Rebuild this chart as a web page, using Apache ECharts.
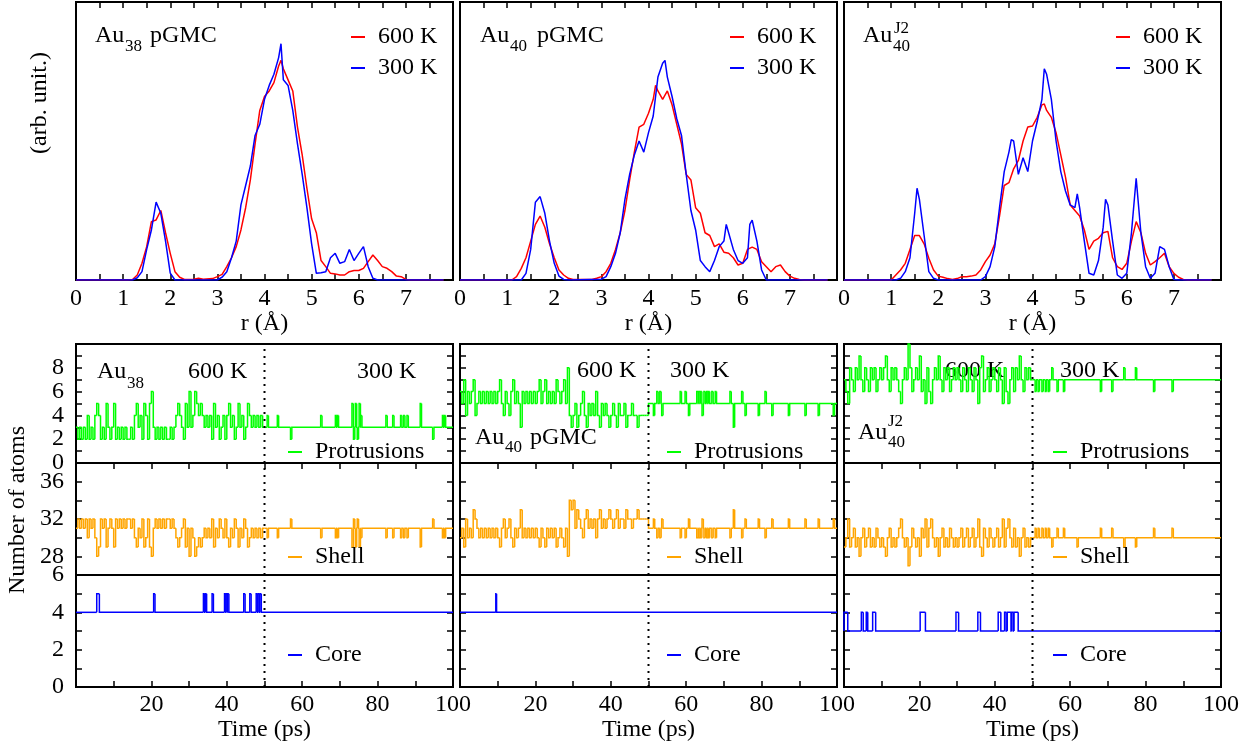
<!DOCTYPE html>
<html>
<head>
<meta charset="utf-8">
<script src="https://cdn.jsdelivr.net/npm/echarts@6/dist/echarts.min.js"></script>
<style>
html, body { margin: 0; padding: 0; background: #fff; }
#main { width: 1255px; height: 746px; }
</style>
</head>
<body>
<div id="main"></div>
<script>
var FONT = "'Liberation Serif', 'DejaVu Serif', serif";

// ---- radial distributions, [r (A), arb. unit] ----
var rdfAu38_600 = [[0,0],[1.1,0],[1.2,0.2],[1.3,1.8],[1.4,6],[1.5,12],[1.6,21],[1.7,21.6],[1.8,25],[1.9,17],[2.0,9.6],[2.1,3],[2.2,1],[2.3,0.2],[2.5,0.3],[2.6,0.6],[2.7,0.3],[2.9,0.5],[3.0,1.2],[3.1,2],[3.2,4.8],[3.3,8],[3.4,12],[3.5,18],[3.6,26],[3.7,36],[3.8,49],[3.9,61],[4.0,66],[4.1,68],[4.2,71],[4.3,77],[4.35,79],[4.4,76],[4.5,72],[4.6,68],[4.7,55],[4.8,45],[4.9,33],[5.0,22],[5.1,17],[5.2,7],[5.3,4.8],[5.4,2.4],[5.5,2.2],[5.6,1.8],[5.7,1.8],[5.8,3],[5.9,3.4],[6.0,3.4],[6.1,4.2],[6.2,6.6],[6.3,9],[6.4,7],[6.5,4.8],[6.6,4.2],[6.7,3],[6.8,1.4],[6.9,1.2],[7.0,0.2],[7.1,0],[7.8,0]];
var rdfAu38_300 = [[0,0],[1.2,0],[1.3,0.8],[1.4,3],[1.5,11],[1.6,18],[1.7,28],[1.8,24],[1.9,14],[2.0,2.5],[2.1,0],[3.0,0],[3.1,1],[3.2,3],[3.3,8],[3.4,14],[3.5,27],[3.6,34],[3.7,41],[3.8,52],[3.9,56],[4.0,65],[4.1,70],[4.2,74],[4.3,80],[4.35,85],[4.4,72],[4.5,70],[4.6,61],[4.7,49],[4.8,38],[4.9,26],[5.0,13],[5.1,2.4],[5.2,2.6],[5.3,3],[5.4,8],[5.5,9.6],[5.6,6],[5.7,6.6],[5.8,11],[5.9,7],[6.0,9.6],[6.1,12],[6.2,4.8],[6.3,0.6],[6.4,0],[7.8,0]];
var rdfAu40_600 = [[0,0],[1.1,0],[1.2,1.2],[1.3,4.2],[1.4,8],[1.5,14],[1.6,20],[1.7,23],[1.8,19],[1.9,13],[2.0,8],[2.1,3.6],[2.2,1.8],[2.3,0.6],[2.4,0.2],[2.8,0.2],[2.9,0.6],[3.0,1.2],[3.1,3],[3.2,6],[3.3,11],[3.4,17],[3.5,25],[3.6,36],[3.7,46],[3.8,55],[3.9,56],[4.0,60],[4.1,65],[4.15,70],[4.2,68],[4.3,65],[4.4,68],[4.5,63],[4.6,56],[4.7,49],[4.8,38],[4.9,36],[5.0,26],[5.1,24],[5.2,17],[5.3,16],[5.4,12],[5.5,13],[5.6,10],[5.7,9.6],[5.8,8],[5.9,5.4],[6.0,6],[6.1,11],[6.2,11.8],[6.3,11],[6.4,6.6],[6.5,4.8],[6.6,3],[6.7,4.8],[6.8,5.4],[6.9,3],[7.0,1.4],[7.1,0.6],[7.2,0.2],[7.3,0],[7.8,0]];
var rdfAu40_300 = [[0,0],[1.3,0],[1.4,2.4],[1.5,11],[1.6,28],[1.7,30],[1.8,24],[1.9,14],[2.0,6],[2.1,1.4],[2.2,0.2],[2.3,0],[3.0,0.3],[3.1,1.2],[3.2,4.8],[3.3,9.6],[3.4,17],[3.5,29],[3.6,38],[3.7,45],[3.8,50],[3.9,46],[4.0,53],[4.1,59],[4.2,73],[4.3,78],[4.35,79],[4.4,73],[4.5,66],[4.6,58],[4.7,52],[4.8,38],[4.9,25],[5.0,18],[5.1,7],[5.2,4.8],[5.3,3],[5.4,7],[5.5,12],[5.6,14],[5.65,20],[5.7,17],[5.8,11],[5.9,7],[6.0,6],[6.1,8],[6.15,20],[6.2,21.5],[6.3,14],[6.4,3.6],[6.5,0],[7.8,0]];
var rdfJ2_600 = [[0,0],[1.0,0],[1.1,1.8],[1.2,3.6],[1.3,6],[1.4,11],[1.5,16],[1.6,16],[1.7,13],[1.8,7.8],[1.9,3.6],[2.0,1.4],[2.1,1],[2.2,0.5],[2.3,0.2],[2.4,0.5],[2.5,1.2],[2.6,1.2],[2.7,1.4],[2.8,1.8],[2.9,3.6],[3.0,6.6],[3.1,9],[3.2,13],[3.3,23],[3.4,34],[3.5,35],[3.6,40],[3.7,43],[3.8,50],[3.9,55],[4.0,55.4],[4.1,58.5],[4.2,63],[4.25,63.3],[4.3,61],[4.4,58.5],[4.5,53],[4.6,45],[4.7,37],[4.8,27],[4.9,25],[5.0,23],[5.1,18],[5.2,11],[5.3,14],[5.4,15],[5.5,17],[5.6,17.5],[5.7,8],[5.8,4.8],[5.9,3.8],[6.0,6],[6.1,14],[6.2,21],[6.3,17],[6.4,9.6],[6.5,5.4],[6.6,6.6],[6.7,8],[6.8,9.6],[6.9,4.8],[7.0,2.4],[7.1,1],[7.2,0.2],[7.3,0],[7.8,0]];
var rdfJ2_300 = [[0,0],[1.1,0],[1.2,0.6],[1.3,3],[1.4,8],[1.5,24],[1.55,33],[1.6,29],[1.7,16],[1.8,3],[1.9,0.6],[2.0,0],[2.9,0],[3.0,1.2],[3.1,4.8],[3.2,12],[3.3,26],[3.4,39],[3.5,46],[3.55,50.5],[3.6,50],[3.7,38],[3.8,44],[3.9,39],[4.0,50],[4.1,57],[4.2,65],[4.25,76],[4.3,74],[4.4,65],[4.5,50],[4.6,39],[4.7,32],[4.8,27],[4.9,26],[4.95,31],[5.0,26],[5.1,14],[5.2,2.4],[5.3,1.8],[5.4,7],[5.5,19],[5.55,29],[5.6,27],[5.7,14],[5.8,1.8],[5.9,0.6],[6.0,2.4],[6.1,17],[6.2,36.6],[6.3,17],[6.4,4.8],[6.5,0.6],[6.6,2.4],[6.7,12],[6.8,11],[6.9,4.8],[7.0,0.2],[7.1,0],[7.8,0]];

// ---- atom counts at 600 K, one value every 0.5 ps from 0 to 50 ps ----
var sampleStep = 0.5;
var switchTime = 50;
var protAu38_600 = [3,2,3,2,3,2,4,2,3,2, 4,5,4,2,3,2,5,3,2,3, 5,2,3,2,3,2,3,2,2,3, 2,4,5,3,4,2,5,4,2,5, 6,3,2,3,2,3,2,3,2,2,
                    3,2,3,4,5,4,3,2,5,3, 6,3,4,6,5,4,5,4,3,4, 3,4,2,5,3,4,2,3,4,2, 4,5,3,4,2,3,5,3,4,2, 3,5,4,3,4,3,4,3,4,3];
var shellAu38_600 = [31,32,31,32,31,32,30,32,31,32, 30,28,29,32,31,32,29,31,32,31, 29,32,31,32,31,32,31,32,32,31, 32,30,29,31,30,32,29,30,32,29, 28,31,32,31,32,31,32,31,32,32,
                     31,32,31,30,29,30,31,32,29,31, 28,31,30,28,29,30,29,30,31,30, 31,30,32,29,31,30,32,31,30,32, 30,29,31,30,32,31,29,31,30,32, 31,29,30,31,30,31,30,31,30,31];
var protAu40_600 = [6,5,7,4,6,5,6,7,4,5, 6,5,6,5,6,5,6,5,6,5, 6,7,5,4,6,5,4,6,7,5, 6,5,3,6,5,6,5,6,5,6, 5,6,7,5,6,7,5,6,5,6,
                    5,7,6,5,6,7,5,8,4,3, 4,5,3,4,5,6,4,3,5,4, 5,4,6,4,3,5,4,5,4,3, 4,5,4,3,5,4,4,5,3,4, 4,5,4,4,3,4,4,4,4,4];
var shellAu40_600 = [30,31,29,32,30,31,30,33,32,31, 30,31,30,31,30,31,30,31,30,31, 30,29,31,32,30,31,32,30,29,31, 30,31,33,30,31,30,31,30,31,30, 31,30,29,31,30,29,31,30,31,30,
                     31,29,30,31,30,29,31,28,34,33, 34,31,33,32,31,30,32,33,31,32, 31,32,30,32,33,31,32,31,32,33, 32,31,32,33,31,32,32,31,33,32, 32,31,32,32,33,32,32,32,32,32];
var protJ2_600 = [7,6,5,8,7,6,8,7,9,7, 6,8,7,6,8,7,8,6,7,8, 7,8,9,7,6,8,7,8,7,6, 5,7,8,7,10,8,6,7,8,7, 9,6,7,5,8,6,5,7,8,7,
                  9,7,6,8,7,8,6,7,8,7, 8,7,6,8,7,6,8,7,6,8, 7,5,8,9,6,7,8,6,7,8, 7,6,8,7,5,8,6,5,7,8, 6,8,7,9,7,6,8,7,8,7];
var shellJ2_600 = [29,30,32,29,30,31,29,30,28,30, 31,29,30,31,29,30,29,31,30,29, 30,29,28,30,31,29,30,29,30,31, 32,30,29,30,27,29,31,30,29,30, 28,31,30,32,29,31,32,30,29,30,
                   28,30,31,29,30,29,31,30,29,30, 29,30,31,29,30,31,29,30,31,29, 30,32,29,28,31,30,29,31,30,29, 30,31,29,30,32,29,31,32,30,29, 31,29,30,28,30,31,29,30,29,30];

// ---- plateau levels and short excursions [time (ps), atoms, duration (ps)] ----
var protAu38_base = 3;
var protAu38_jumps = [[50.7,4],[53.4,4],[56.9,2],[64.9,4],[68.8,4],[69.3,4],[73.2,5],[73.6,2],[74.1,5],[74.6,2],[75.1,5],[75.5,4],[82.2,4],[84.0,4],[86.1,4],[86.9,4],[87.8,4],[91.3,5],[94.6,2],[97.2,4],[97.7,4]];
var shellAu38_base = 31;
var shellAu38_jumps = [[50.7,30],[53.4,30],[56.9,32],[64.9,30],[68.8,30],[69.3,30],[73.2,29],[73.6,32],[74.1,29],[74.6,32],[75.1,29],[75.5,30],[82.2,30],[84.0,30],[86.1,30],[86.9,30],[87.8,30],[91.3,29],[94.6,32],[97.2,30],[97.7,30]];
var coreAu38_base = 4;
var coreAu38_jumps = [[5.5,5,0.7],[20.6,5],[33.8,5],[34.3,5],[36.1,5],[39.4,5],[39.8,5],[40.2,5],[44.5,5],[46.1,5],[47.8,5],[48.3,5],[48.8,5]];

var protAu40_base = 5;
var protAu40_jumps = [[51.3,4],[52.2,6],[53.0,6],[53.5,4],[58.4,6],[59.7,6],[60.6,4],[62.8,6],[63.3,6],[63.8,6],[64.2,4],[64.7,6],[65.4,6],[65.9,6],[66.8,6],[67.7,6],[71.6,6],[72.5,3],[74.7,6],[75.6,4],[79.1,4],[80.9,6],[82.7,4],[87.1,4],[91.5,4],[95.0,4],[99.0,4]];
var shellAu40_base = 31;
var shellAu40_jumps = [[51.3,32],[52.2,30],[53.0,30],[53.5,32],[58.4,30],[59.7,30],[60.6,32],[62.8,30],[63.3,30],[63.8,30],[64.2,32],[64.7,30],[65.4,30],[65.9,30],[66.8,30],[67.7,30],[71.6,30],[72.5,33],[74.7,30],[75.6,32],[79.1,32],[80.9,30],[82.7,32],[87.1,32],[91.5,32],[95.0,32],[99.0,32]];
var coreAu40_base = 4;
var coreAu40_jumps = [[9.5,5,0.2]];

var protJ2_base = 7;
var protJ2_jumps = [[50.7,6],[51.5,6],[52.5,6],[53.4,6],[54.2,6],[55.1,8],[56.5,6],[58.2,6],[68.0,6],[71.0,6],[74.2,8],[77.3,8],[82.1,6],[87.0,6]];
var shellJ2_base = 30;
var shellJ2_jumps = [[50.7,31],[51.5,31],[52.5,31],[53.4,31],[54.2,31],[55.1,29],[56.5,31],[58.2,31],[61.8,29],[68.0,31],[71.0,31],[74.2,29],[77.3,29],[82.1,31],[87.0,31]];
var coreJ2_base = 3;
var coreJ2_jumps = [[0,4,1.0],[4.6,4,0.5],[5.9,4,0.4],[7.6,4,0.8],[20.2,4,1.4],[29.7,4,0.7],[35.5,4,0.7],[40.9,4,0.7],[42.6,4,0.4],[43.3,4,1.0],[44.5,4,0.4],[45.1,4,1.1]];

// ---- layout ----
var colLeft = [76, 460, 844];
var panelW = 377;
var lineW = 1.5;
var FS = 24, SUB = 17;

// change points -> step pieces [t start, t end, value, previous value]
function buildSteps(dense, base, jumps) {
    var pts = [];
    dense.forEach(function (v, i) { pts.push([i * sampleStep, v]); });
    if (!dense.length) pts.push([0, base]);
    else pts.push([dense.length * sampleStep, base]);
    jumps.forEach(function (j) {
        pts.push([j[0], j[1]]);
        pts.push([j[0] + (j[2] || 0.35), base]);
    });
    pts.sort(function (a, b) { return a[0] - b[0]; });
    var steps = [];
    pts.forEach(function (p, i) {
        var tEnd = i + 1 < pts.length ? pts[i + 1][0] : 100;
        var prev = i > 0 ? pts[i - 1][1] : p[1];
        if (tEnd > p[0] || i > 0) steps.push([p[0], tEnd, p[1], prev]);
    });
    return steps;
}

var panels = [
    { rdf600: rdfAu38_600, rdf300: rdfAu38_300,
      prot: buildSteps(protAu38_600, protAu38_base, protAu38_jumps),
      shell: buildSteps(shellAu38_600, shellAu38_base, shellAu38_jumps),
      core: buildSteps([], coreAu38_base, coreAu38_jumps) },
    { rdf600: rdfAu40_600, rdf300: rdfAu40_300,
      prot: buildSteps(protAu40_600, protAu40_base, protAu40_jumps),
      shell: buildSteps(shellAu40_600, shellAu40_base, shellAu40_jumps),
      core: buildSteps([], coreAu40_base, coreAu40_jumps) },
    { rdf600: rdfJ2_600, rdf300: rdfJ2_300,
      prot: buildSteps(protJ2_600, protJ2_base, protJ2_jumps),
      shell: buildSteps(shellJ2_600, shellJ2_base, shellJ2_jumps),
      core: buildSteps([], coreJ2_base, coreJ2_jumps) }
];

var labelStyle = { color: '#000', fontFamily: FONT, fontSize: FS };
var tick = { show: true, inside: true, length: 6, lineStyle: { color: '#000', width: 1.5 } };
var minor = { show: true, splitNumber: 2, length: 6, lineStyle: { color: '#000', width: 1.5 } };

var grids = [], xAxes = [], yAxes = [], series = [], legends = [], graphics = [];

function addGrid(c, top, h) {
    grids.push({ left: colLeft[c], top: top, width: panelW, height: h, show: true,
                 borderColor: '#000', borderWidth: 2, backgroundColor: 'transparent' });
    return grids.length - 1;
}
function axis(g, extra) {
    var a = { type: 'value', gridIndex: g, splitLine: { show: false }, axisLine: { show: false },
              axisLabel: { show: false }, axisTick: { show: false } };
    for (var k in extra) a[k] = extra[k];
    return a;
}
function addX(o) { xAxes.push(o); return xAxes.length - 1; }
function addY(o) { yAxes.push(o); return yAxes.length - 1; }
function lab(extra) {
    var o = { show: true, color: '#000', fontFamily: FONT, fontSize: FS };
    for (var k in extra) o[k] = extra[k];
    return o;
}
// dotted vertical line where the temperature is switched
function divider(xi, yi, lo, hi) {
    return { type: 'line', data: [[switchTime, lo], [switchTime, hi]], xAxisIndex: xi, yAxisIndex: yi,
             showSymbol: false, silent: true, z: 3,
             lineStyle: { color: '#000', type: [2, 5], width: 2 } };
}
function stepSeries(name, color, data, xi, yi) {
    return { type: 'custom', name: name, data: data, xAxisIndex: xi, yAxisIndex: yi,
             itemStyle: { color: color }, encode: { x: [0, 1], y: [2, 3] }, silent: true,
             renderItem: function (params, api) {
                 var a = api.coord([api.value(0), api.value(3)]);
                 var b = api.coord([api.value(0), api.value(2)]);
                 var e = api.coord([api.value(1), api.value(2)]);
                 return { type: 'polyline', shape: { points: [a, b, e] },
                          style: { stroke: color, fill: null, lineWidth: lineW, lineJoin: 'miter', lineCap: 'butt' } };
             } };
}

var protLegendLeft = [288, 667, 1053];
var tempLegendLeft = [351, 730, 1116];

panels.forEach(function (p, c) {
    // radial distribution panel
    var g = addGrid(c, 2, 278);
    var xb = addX(axis(g, { min: 0, max: 8, interval: 1, axisTick: tick, minorTick: minor,
        axisLabel: lab({ margin: 7, showMaxLabel: false }),
        name: 'r (Å)', nameLocation: 'middle', nameGap: 31, nameTextStyle: labelStyle }));
    addX(axis(g, { min: 0, max: 8, interval: 1, position: 'top', axisTick: tick, minorTick: minor }));
    var yr = addY(axis(g, { min: 0, max: 100 }));
    ['600 K', '300 K'].forEach(function (nm, k) {
        series.push({ type: 'line', name: nm, data: k ? p.rdf300 : p.rdf600, xAxisIndex: xb, yAxisIndex: yr,
            showSymbol: false, lineStyle: { color: k ? '#0000ff' : '#ff0000', width: lineW },
            itemStyle: { color: k ? '#0000ff' : '#ff0000' } });
    });
    legends.push({ data: ['600 K', '300 K'], orient: 'vertical', left: tempLegendLeft[c], top: 25,
        padding: 0, itemGap: 7, itemWidth: 14, itemHeight: 2, icon: 'rect', selectedMode: false,
        textStyle: { color: '#000', fontFamily: FONT, fontSize: FS, padding: [0, 0, 0, 8] } });

    // protrusions
    var gp = addGrid(c, 344, 119);
    var xp = addX(axis(gp, { min: 0, max: 100, interval: 20, position: 'top', axisTick: tick, minorTick: minor }));
    var yp = addY(axis(gp, { min: 0, max: 10, interval: 2, axisTick: tick, minorTick: minor,
        axisLabel: c === 0 ? lab({ margin: 12, showMaxLabel: false }) : { show: false } }));
    addY(axis(gp, { min: 0, max: 10, interval: 2, position: 'right', axisTick: tick, minorTick: minor }));
    series.push(stepSeries('Protrusions', '#00ff00', p.prot, xp, yp));
    series.push(divider(xp, yp, 0, 10));

    // shell
    var gs = addGrid(c, 463, 112);
    var xs = addX(axis(gs, { min: 0, max: 100, show: false }));
    var ys = addY(axis(gs, { min: 26, max: 38, interval: 2, axisTick: tick,
        axisLabel: c === 0 ? lab({ margin: 12, formatter: function (v) { return v % 4 === 0 ? String(v) : ''; } }) : { show: false } }));
    addY(axis(gs, { min: 26, max: 38, interval: 2, position: 'right', axisTick: tick }));
    series.push(stepSeries('Shell', '#ffa500', p.shell, xs, ys));
    series.push(divider(xs, ys, 26, 38));

    // core
    var gc = addGrid(c, 575, 112);
    var xc = addX(axis(gc, { min: 0, max: 100, interval: 20, axisTick: tick, minorTick: minor,
        axisLabel: lab({ margin: 6, showMinLabel: false }),
        name: 'Time (ps)', nameLocation: 'middle', nameGap: 27, nameTextStyle: labelStyle }));
    var yc = addY(axis(gc, { min: 0, max: 6, interval: 2, axisTick: tick, minorTick: minor,
        axisLabel: c === 0 ? lab({ margin: 12 }) : { show: false } }));
    addY(axis(gc, { min: 0, max: 6, interval: 2, position: 'right', axisTick: tick, minorTick: minor }));
    series.push(stepSeries('Core', '#0000ff', p.core, xc, yc));
    series.push(divider(xc, yc, 0, 6));

    [['Protrusions', 440], ['Shell', 545], ['Core', 643]].forEach(function (lg) {
        legends.push({ data: [lg[0]], left: protLegendLeft[c], top: lg[1], padding: 0,
            itemWidth: 14, itemHeight: 2, icon: 'rect', selectedMode: false,
            textStyle: { color: '#000', fontFamily: FONT, fontSize: FS, padding: [0, 0, 0, 8] } });
    });
});

// ---- annotations ----
function txt(x, y, s, size, rot) {
    return { type: 'text', x: x, y: y, rotation: rot || 0, silent: true,
             style: { text: s, fill: '#000', font: (size || FS) + 'px ' + FONT,
                      align: rot ? 'center' : 'left', verticalAlign: 'middle' } };
}
graphics.push(
    txt(95, 36, 'Au'), txt(125, 47, '38', SUB), txt(150, 36, 'pGMC'),
    txt(480, 36, 'Au'), txt(510, 47, '40', SUB), txt(537, 36, 'pGMC'),
    txt(863, 36, 'Au'), txt(894, 29, 'J2', SUB), txt(893, 47, '40', SUB),
    txt(97, 372, 'Au'), txt(127, 384, '38', SUB), txt(188, 372, '600 K'), txt(357, 372, '300 K'),
    txt(475, 438, 'Au'), txt(505, 448, '40', SUB), txt(530, 438, 'pGMC'), txt(577, 371, '600 K'), txt(670, 371, '300 K'),
    txt(858, 433, 'Au'), txt(888, 422, 'J2', SUB), txt(888, 443, '40', SUB), txt(945, 371, '600 K'), txt(1060, 371, '300 K'),
    txt(40, 103, '(arb. unit.)', FS, Math.PI / 2),
    txt(18, 510, 'Number of atoms', FS, Math.PI / 2)
);

var chart = echarts.init(document.getElementById('main'));
chart.setOption({
    animation: false,
    backgroundColor: '#fff',
    grid: grids,
    xAxis: xAxes,
    yAxis: yAxes,
    legend: legends,
    series: series,
    graphic: graphics
});
</script>
</body>
</html>
